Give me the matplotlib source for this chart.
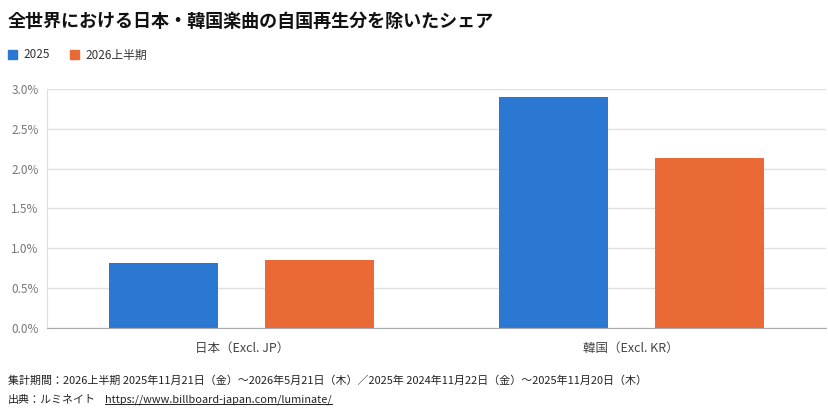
import matplotlib
matplotlib.use("Agg")
import matplotlib.pyplot as plt
from matplotlib.lines import Line2D
from matplotlib.patches import Rectangle
from matplotlib.ticker import FuncFormatter, MultipleLocator
import numpy as np

plt.rcParams['font.family'] = ['Noto Sans CJK JP', 'DejaVu Sans']

categories = ["日本（Excl. JP）", "韓国（Excl. KR）"]
series_names = ["2025", "2026上半期"]
values_2025 = [0.82, 2.90]
values_2026h1 = [0.85, 2.13]
colors = ["#2b78d3", "#e96a35"]

title = "全世界における日本・韓国楽曲の自国再生分を除いたシェア"
period_note = "集計期間：2026上半期 2025年11月21日（金）～2026年5月21日（木）／2025年 2024年11月22日（金）～2025年11月20日（木）"
source_label = "出典：ルミネイト"
source_url = "https://www.billboard-japan.com/luminate/"

W, H = 829, 413
fig = plt.figure(figsize=(W / 100, H / 100), dpi=100)
ax = fig.add_axes([47 / W, (H - 328) / H, (826 - 47) / W, (328 - 89) / H])

x = np.arange(len(categories))
width = 0.28
ax.bar(x - 0.2, values_2025, width, color=colors[0], zorder=3)
ax.bar(x + 0.2, values_2026h1, width, color=colors[1], zorder=3)

ax.set_xlim(-0.5, len(categories) - 0.5)
ax.set_ylim(0, 3.0)
ax.yaxis.set_major_locator(MultipleLocator(0.5))
ax.yaxis.set_major_formatter(FuncFormatter(lambda v, p: f"{v:.1f}%"))
ax.grid(axis='y', color='#e0e0e0', linewidth=1, zorder=0)
ax.set_xticks(x)
ax.set_xticklabels(categories, fontsize=9, color='#444444')
ax.tick_params(axis='x', length=0, pad=10)
ax.tick_params(axis='y', length=0, pad=6, labelsize=8.5, labelcolor='#777777')
for s in ['top', 'right']:
    ax.spines[s].set_visible(False)
ax.spines['left'].set_color('#e0e0e0')
ax.spines['bottom'].set_color('#aaaaaa')
ax.spines['bottom'].set_zorder(4)

fig.text(8 / W, 1 - 21 / H, title, fontsize=13, fontweight='bold', va='center', color='#111111')

# legend
leg_x = [8, 70]
for lx, name, c in zip(leg_x, series_names, colors):
    fig.patches.append(Rectangle((lx / W, 1 - 59 / H), 9 / W, 9 / H, color=c,
                                 transform=fig.transFigure, figure=fig))
    fig.text((lx + 15) / W, 1 - 55 / H, name, fontsize=8.5, va='center', color='#333333')

fig.text(8 / W, 1 - 381 / H, period_note, fontsize=7.9, va='center', color='#222222')
fig.text(8 / W, 1 - 400 / H, source_label, fontsize=7.9, va='center', color='#222222')
url = fig.text(105 / W, 1 - 400 / H, source_url, fontsize=7.85, va='center', color='#222222')

fig.canvas.draw()
bb = url.get_window_extent().transformed(fig.transFigure.inverted())
fig.lines.append(Line2D([bb.x0, bb.x1], [bb.y0 + 1 / H, bb.y0 + 1 / H], color='#222222',
                        linewidth=0.7, transform=fig.transFigure, figure=fig))

fig.savefig("out.png", dpi=100)
